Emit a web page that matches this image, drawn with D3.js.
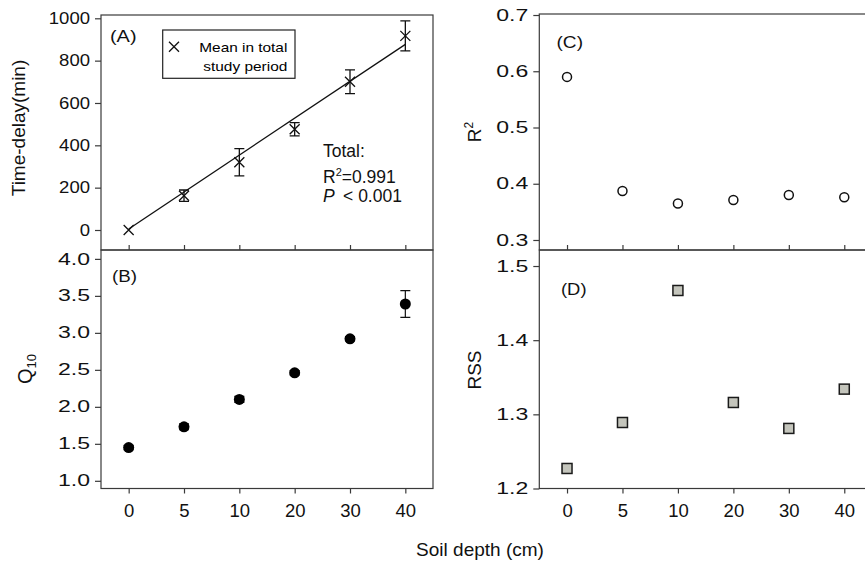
<!DOCTYPE html>
<html>
<head>
<meta charset="utf-8">
<script src="https://cdn.jsdelivr.net/npm/d3@7"></script>
<style>
  html, body { margin: 0; padding: 0; background: #fff; }
  svg { display: block; font-family: "Liberation Sans", Arial, sans-serif; }
  .axis path, .axis line { stroke: #3a3a3a; stroke-width: 1.2; }
  .axis text { fill: #111; }
</style>
</head>
<body>
<svg id="chart" width="865" height="563"></svg>
<script>
// Soil depth categories (cm)
const depths = ["0", "5", "10", "20", "30", "40"];

// (A) time delay, mean and error (min)
const delayMean = [0, 162, 320, 476, 700, 917];
const delayErr  = [0, 27, 64, 31, 56, 71];
// fitted line value at the first and last depth
const delayFit = [5, 877];

// (B) Q10 with error
const q10    = [1.45, 1.73, 2.10, 2.46, 2.92, 3.39];
const q10Err = [0.03, 0.04, 0.04, 0.03, 0.03, 0.18];

// (C) R² of the fit
const r2 = [0.590, 0.387, 0.365, 0.371, 0.380, 0.376];

// (D) residual sum of squares
const rss = [1.227, 1.289, 1.467, 1.316, 1.281, 1.334];

// tick values
const ticksA = [0, 200, 400, 600, 800, 1000];
const ticksB = [1.0, 1.5, 2.0, 2.5, 3.0, 3.5, 4.0];
const ticksC = [0.3, 0.4, 0.5, 0.6, 0.7];
const ticksD = [1.2, 1.3, 1.4, 1.5];

const svg = d3.select("#chart");
const INK = "#3a3a3a";

// the figure's lettering is set wide; stretch a text node to a given width
function widen(sel, width) {
  sel.attr("textLength", width).attr("lengthAdjust", "spacingAndGlyphs");
  return sel;
}

// panel geometry
const L = { x0: 101, x1: 433 };
const R = { x0: 539.3, x1: 872 };
const topY = 15, midY = 250, botY = 488.5;

const xL = d3.scalePoint().domain(depths).range([L.x0, L.x1]).padding(0.5);
const xR = d3.scalePoint().domain(depths).range([R.x0, R.x1]).padding(0.5);

const yA = d3.scaleLinear().domain([-94.5, 1015.6]).range([midY, topY]);
const yB = d3.scaleLinear().domain([0.896, 4.12]).range([botY, midY]);
const yC = d3.scaleLinear().domain([0.2822, 0.7018]).range([midY, 14]);
const yD = d3.scaleLinear().domain([1.2, 1.5216]).range([botY, midY]);

function frame(x0, x1, y0, y1) {
  svg.append("rect")
    .attr("x", x0).attr("y", y0)
    .attr("width", x1 - x0).attr("height", y1 - y0)
    .attr("fill", "none").attr("stroke", INK).attr("stroke-width", 1.2);
}
frame(L.x0, L.x1, topY, midY);
frame(L.x0, L.x1, midY, botY);
frame(R.x0, R.x1, 14, midY);
frame(R.x0, R.x1, midY, botY);

function yAxis(scale, x, ticks, fmt, widthOf) {
  const g = svg.append("g").attr("class", "axis")
    .attr("transform", `translate(${x},0)`)
    .call(d3.axisLeft(scale).tickValues(ticks).tickFormat(fmt)
      .tickSizeOuter(0).tickSizeInner(6).tickPadding(5));
  g.select(".domain").remove();
  g.selectAll("text").attr("font-size", 16)
    .each(function () { widen(d3.select(this), widthOf(this.textContent)); });
  return g;
}
const intWidth = s => 10.3 * s.length;
const decWidth = () => 32;
yAxis(yA, L.x0, ticksA, d3.format("d"), intWidth);
yAxis(yB, L.x0, ticksB, d3.format(".1f"), decWidth);
yAxis(yC, R.x0, ticksC, d3.format(".1f"), decWidth);
yAxis(yD, R.x0, ticksD, d3.format(".1f"), decWidth);

// inward ticks on the upper panels' bottom edge
function innerTicks(x) {
  const g = svg.append("g").attr("class", "axis")
    .attr("transform", `translate(0,${midY})`)
    .call(d3.axisTop(x).tickSizeOuter(0).tickFormat(""));
  g.select(".domain").remove();
  g.selectAll(".tick line").attr("y1", 0).attr("y2", -5);
}
innerTicks(xL);
innerTicks(xR);

function xAxis(x) {
  const g = svg.append("g").attr("class", "axis")
    .attr("transform", `translate(0,${botY})`)
    .call(d3.axisBottom(x).tickSizeOuter(0).tickSizeInner(5).tickPadding(10));
  g.select(".domain").remove();
  g.selectAll("text").attr("font-size", 18.5);
}
xAxis(xL);
xAxis(xR);

// ---- panel A ----
const crossPath = (cx, cy, h) => `M${cx - h},${cy - h}L${cx + h},${cy + h}M${cx - h},${cy + h}L${cx + h},${cy - h}`;

svg.append("line")
  .attr("x1", xL(depths[0])).attr("y1", yA(delayFit[0]))
  .attr("x2", xL(depths[depths.length - 1])).attr("y2", yA(delayFit[1]))
  .attr("stroke", "#111").attr("stroke-width", 1.3);

const gA = svg.append("g");
depths.forEach((d, i) => {
  const cx = xL(d);
  if (delayErr[i] > 0) {
    const t = yA(delayMean[i] + delayErr[i]), b = yA(delayMean[i] - delayErr[i]);
    gA.append("path")
      .attr("d", `M${cx},${t}V${b}M${cx - 5},${t}H${cx + 5}M${cx - 5},${b}H${cx + 5}`)
      .attr("stroke", "#111").attr("stroke-width", 1.3).attr("fill", "none");
  }
  gA.append("path").attr("d", crossPath(cx, yA(delayMean[i]), 5))
    .attr("stroke", "#111").attr("stroke-width", 1.3).attr("fill", "none");
});

// legend
svg.append("rect").attr("x", 162.7).attr("y", 30).attr("width", 132.3).attr("height", 48.3)
  .attr("fill", "#fff").attr("stroke", "#222").attr("stroke-width", 1.2);
svg.append("path").attr("d", crossPath(174, 46.7, 5))
  .attr("stroke", "#111").attr("stroke-width", 1.3);
widen(svg.append("text").attr("x", 199.3).attr("y", 51.7)
  .attr("font-size", 13).text("Mean in total"), 88);
widen(svg.append("text").attr("x", 203.3).attr("y", 70.7)
  .attr("font-size", 13).text("study period"), 84);

// statistics
const stat = svg.append("g").attr("font-size", 17.5).attr("fill", "#111");
stat.append("text").attr("x", 323).attr("y", 157).text("Total:");
const r2t = stat.append("text").attr("x", 323).attr("y", 183);
r2t.append("tspan").text("R");
r2t.append("tspan").attr("font-size", 11).attr("dy", -7).text("2");
r2t.append("tspan").attr("dy", 7).text("=0.991");
const pt = stat.append("text").attr("x", 323).attr("y", 201.5);
pt.append("tspan").attr("font-style", "italic").text("P");
pt.append("tspan").text("\u2009 < 0.001");

// ---- panel B ----
const gB = svg.append("g");
depths.forEach((d, i) => {
  const cx = xL(d);
  const t = yB(q10[i] + q10Err[i]), b = yB(q10[i] - q10Err[i]);
  gB.append("path")
    .attr("d", `M${cx},${t}V${b}M${cx - 5},${t}H${cx + 5}M${cx - 5},${b}H${cx + 5}`)
    .attr("stroke", "#111").attr("stroke-width", 1.2).attr("fill", "none");
  gB.append("circle").attr("cx", cx).attr("cy", yB(q10[i])).attr("r", 5.5).attr("fill", "#000");
});

// ---- panel C ----
svg.append("g").selectAll("circle").data(r2).join("circle")
  .attr("cx", (v, i) => xR(depths[i])).attr("cy", v => yC(v)).attr("r", 4.5)
  .attr("fill", "#fff").attr("stroke", "#111").attr("stroke-width", 1.5);

// ---- panel D ----
svg.append("g").selectAll("rect").data(rss).join("rect")
  .attr("x", (v, i) => xR(depths[i]) - 5).attr("y", v => yD(v) - 5)
  .attr("width", 10).attr("height", 10)
  .attr("fill", "#c4c5bc").attr("stroke", "#1a1a1a").attr("stroke-width", 1.5);

// panel letters
const lab = svg.append("g").attr("font-size", 16).attr("fill", "#111");
widen(lab.append("text").attr("x", 110).attr("y", 41.5).text("(A)"), 26.5);
widen(lab.append("text").attr("x", 112).attr("y", 282).text("(B)"), 25);
widen(lab.append("text").attr("x", 556.5).attr("y", 48).text("(C)"), 26.5);
widen(lab.append("text").attr("x", 561).attr("y", 295).text("(D)"), 25.5);

// axis titles
const titles = svg.append("g").attr("font-size", 19).attr("fill", "#111");
titles.append("text").attr("transform", `translate(25,128) rotate(-90)`)
  .attr("text-anchor", "middle").text("Time-delay(min)");

const q = titles.append("text").attr("transform", `translate(32,369) rotate(-90)`)
  .attr("text-anchor", "middle");
q.append("tspan").attr("font-size", 20).text("Q");
q.append("tspan").attr("font-size", 13).attr("dy", 4).text("10");

const rt = titles.append("text").attr("transform", `translate(481,132) rotate(-90)`)
  .attr("text-anchor", "middle");
rt.append("tspan").text("R");
rt.append("tspan").attr("font-size", 12).attr("dy", -8).text("2");

titles.append("text").attr("transform", `translate(481,370) rotate(-90)`)
  .attr("text-anchor", "middle").text("RSS");

titles.append("text").attr("x", 480).attr("y", 556).attr("text-anchor", "middle")
  .attr("font-size", 19).text("Soil depth (cm)");
</script>
</body>
</html>
